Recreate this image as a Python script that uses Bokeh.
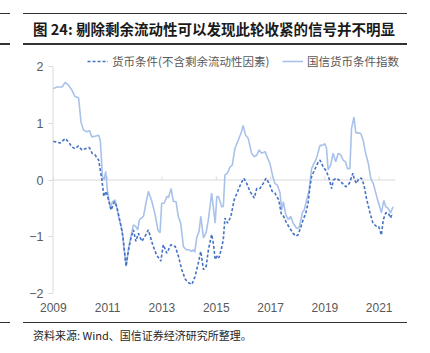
from bokeh.plotting import figure
from bokeh.layouts import column
from bokeh.models import Legend, LegendItem, FixedTicker, ColumnDataSource, Div
from bokeh.embed import file_html
from bokeh.resources import INLINE

# ---------------- data (decimal years) ----------------
gx_years = [2009.00, 2009.14, 2009.32, 2009.44, 2009.56, 2009.69, 2009.80, 2009.93,
            2010.02, 2010.11, 2010.24, 2010.33, 2010.42, 2010.54, 2010.67, 2010.73,
            2010.81, 2010.87, 2010.93, 2010.99, 2011.10, 2011.18, 2011.28, 2011.40,
            2011.53, 2011.61, 2011.68, 2011.77, 2011.86, 2011.95, 2012.04, 2012.11,
            2012.17, 2012.32, 2012.41, 2012.50, 2012.63, 2012.75, 2012.85, 2012.93,
            2012.99, 2013.08, 2013.18, 2013.24, 2013.34, 2013.42, 2013.52, 2013.60,
            2013.69, 2013.79, 2013.89, 2014.01, 2014.10, 2014.16, 2014.21, 2014.28,
            2014.37, 2014.43, 2014.53, 2014.63, 2014.71, 2014.83, 2014.96, 2015.02,
            2015.08, 2015.20, 2015.26, 2015.32, 2015.41, 2015.51, 2015.59, 2015.69,
            2015.81, 2015.93, 2015.99, 2016.08, 2016.18, 2016.30, 2016.40, 2016.49,
            2016.58, 2016.67, 2016.80, 2016.92, 2016.98, 2017.08, 2017.16, 2017.25,
            2017.35, 2017.41, 2017.47, 2017.56, 2017.65, 2017.74, 2017.83, 2017.96,
            2018.04, 2018.12, 2018.18, 2018.24, 2018.33, 2018.42, 2018.51, 2018.60,
            2018.69, 2018.82, 2018.91, 2019.00, 2019.06, 2019.12, 2019.21, 2019.30,
            2019.40, 2019.49, 2019.59, 2019.67, 2019.76, 2019.83, 2019.92, 2019.98,
            2020.07, 2020.14, 2020.23, 2020.32, 2020.41, 2020.50, 2020.60, 2020.69,
            2020.78, 2020.86, 2020.94, 2021.02, 2021.08, 2021.17, 2021.24, 2021.33,
            2021.42, 2021.51]
gx_values = [1.61, 1.64, 1.64, 1.72, 1.67, 1.58, 1.47, 1.45,
             1.02, 0.88, 0.85, 0.87, 0.76, 0.77, 0.79, 0.70,
             0.06, 0.00, 0.15, -0.18, -0.50, -0.38, -0.35, -0.64,
             -0.88, -1.23, -1.52, -1.20, -0.99, -0.79, -0.82, -0.88,
             -0.70, -0.64, -0.41, -0.20, -0.38, -0.61, -0.88, -0.93,
             -0.41, -0.41, -0.29, -0.31, -0.15, -0.38, -0.38, -0.64,
             -0.76, -1.17, -1.23, -1.23, -1.26, -1.23, -1.27, -1.02,
             -0.90, -0.64, -1.02, -0.92, -0.70, -0.23, -0.76, -0.29,
             -0.29, -0.47, -0.47, 0.09, 0.12, 0.23, 0.26, 0.56,
             0.70, 0.85, 0.96, 0.79, 0.73, 0.47, 0.41, 0.44,
             0.53, 0.47, 0.50, 0.35, 0.29, 0.06, -0.06, -0.09,
             -0.23, -0.53, -0.38, -0.61, -0.70, -0.64, -0.76, -0.85,
             -0.85, -0.70, -0.56, -0.53, -0.35, -0.18, 0.20, 0.29,
             0.38, 0.61, 0.61, 0.64, 0.56, 0.18, 0.26, 0.47,
             0.32, 0.47, 0.44, 0.35, 0.32, 0.20, 0.20, 0.90,
             1.11, 0.83, 0.83, 0.82, 0.70, 0.47, 0.29, 0.03,
             -0.06, -0.20, -0.35, -0.47, -0.58, -0.36, -0.47, -0.50,
             -0.58, -0.47]

ex_years = [2009.00, 2009.12, 2009.25, 2009.44, 2009.56, 2009.69, 2009.80, 2009.93,
            2010.05, 2010.17, 2010.27, 2010.33, 2010.43, 2010.54, 2010.67, 2010.79,
            2010.86, 2010.95, 2011.00, 2011.13, 2011.25, 2011.34, 2011.47, 2011.56,
            2011.68, 2011.77, 2011.86, 2011.95, 2012.04, 2012.13, 2012.26, 2012.38,
            2012.50, 2012.66, 2012.80, 2012.96, 2013.05, 2013.18, 2013.33, 2013.49,
            2013.61, 2013.73, 2013.86, 2013.98, 2014.10, 2014.22, 2014.34, 2014.43,
            2014.53, 2014.63, 2014.71, 2014.83, 2014.90, 2014.96, 2015.05, 2015.10,
            2015.18, 2015.26, 2015.32, 2015.42, 2015.54, 2015.66, 2015.79, 2015.91,
            2016.02, 2016.12, 2016.24, 2016.40, 2016.49, 2016.61, 2016.73, 2016.83,
            2016.95, 2017.06, 2017.16, 2017.30, 2017.40, 2017.48, 2017.59, 2017.71,
            2017.83, 2017.93, 2018.01, 2018.10, 2018.20, 2018.30, 2018.38, 2018.45,
            2018.51, 2018.64, 2018.76, 2018.82, 2018.94, 2019.06, 2019.15, 2019.25,
            2019.31, 2019.43, 2019.52, 2019.65, 2019.77, 2019.90, 2020.03, 2020.09,
            2020.17, 2020.25, 2020.35, 2020.44, 2020.53, 2020.65, 2020.77, 2020.90,
            2020.98, 2021.08, 2021.15, 2021.24, 2021.33, 2021.42, 2021.49]
ex_values = [0.68, 0.67, 0.65, 0.73, 0.67, 0.58, 0.55, 0.60,
             0.53, 0.55, 0.57, 0.57, 0.47, 0.44, 0.35, 0.00,
             -0.29, -0.20, -0.29, -0.53, -0.38, -0.47, -0.76, -0.99,
             -1.52, -1.23, -1.02, -0.88, -1.08, -0.94, -1.08, -0.99,
             -0.88, -1.14, -1.32, -1.43, -1.14, -1.29, -1.14, -1.17,
             -1.35, -1.58, -1.75, -1.81, -1.84, -1.70, -1.46, -1.26,
             -1.58, -1.52, -1.23, -0.96, -1.14, -1.40, -1.33, -1.37,
             -1.23, -1.05, -0.67, -0.76, -0.64, -0.35, -0.20, -0.06,
             0.03, -0.06, -0.20, -0.32, -0.15, -0.15, -0.06, 0.03,
             -0.06, -0.20, -0.23, -0.35, -0.61, -0.64, -0.76, -0.85,
             -0.94, -0.99, -0.97, -0.85, -0.70, -0.58, -0.41, -0.12,
             0.06, 0.20, 0.32, 0.35, 0.23, 0.15, 0.03, -0.15,
             0.00, 0.03, 0.00, -0.06, -0.12, -0.06, 0.12, 0.00,
             -0.06, 0.03, 0.03, -0.09, -0.32, -0.56, -0.76, -0.82,
             -0.82, -0.97, -0.70, -0.58, -0.58, -0.67, -0.58]

x_ticks = [2009, 2011, 2013, 2015, 2017, 2019, 2021]
y_ticks = [-2, -1, 0, 1, 2]

title_text = "图 24: 剔除剩余流动性可以发现此轮收紧的信号并不明显"
source_text = "资料来源: Wind、国信证券经济研究所整理。"
label_ex = "货币条件(不含剩余流动性因素)"
label_gx = "国信货币条件指数"

W = 430
axis_gray = "#d9d9d9"
text_gray = "#595959"
rule_color = "#333333"


def hrule(left, top, width, thick):
    return (f'<div style="position:absolute;left:{left}px;top:{top}px;width:{width}px;'
            f'height:{thick}px;background:{rule_color};"></div>')


def text_block(left, top, txt, size, weight, color):
    return (f'<div style="position:absolute;left:{left}px;top:{top}px;white-space:nowrap;'
            f'font-family:\'Noto Sans CJK SC\';font-size:{size}px;font-weight:{weight};'
            f'line-height:{size + 4}px;color:{color};">{txt}</div>')


# ---------------- header ----------------
HH = 50
head_html = ('<div style="position:relative;width:430px;height:50px;">'
             + hrule(23, 12.5, 384, 1) + hrule(0, 12.5, 10, 1)
             + hrule(23, 43, 384, 1.5) + hrule(0, 43, 10, 1.5)
             + text_block(33, 29 - 9.25, title_text, 14.5, 700, "#1a1a1a")
             + '</div>')
head = Div(text=head_html, width=W, height=HH, margin=0)

# ---------------- main chart ----------------
MH = 266                     # canvas rows 50..316
FTc = 53                     # frame top on canvas
FT, FB = FTc - HH, 293 - HH  # frame top/bottom inside main figure
FL, FR = 52, 404             # frame left/right on canvas
px_per_year = (395 - 53) / 12.6
x0, x_axis_end = 2008.97, 2021.6
x1 = x_axis_end + (FR - 395) / px_per_year
y_top = 2 + (66 - FTc) / ((293 - 66) / 4.0)

p = figure(width=W, height=MH, output_backend="svg", toolbar_location=None,
           x_range=(x0, x1), y_range=(-2, y_top),
           min_border_left=FL, min_border_right=W - FR,
           min_border_top=FT, min_border_bottom=MH - FB)
p.outline_line_color = None
p.xgrid.visible = False
p.ygrid.visible = False

p.yaxis.ticker = FixedTicker(ticks=y_ticks)
p.yaxis.major_label_overrides = {t: (str(t) if t >= 0 else "\u2212" + str(-t)) for t in y_ticks}
p.yaxis.axis_line_color = None
p.yaxis.major_tick_line_color = axis_gray
p.yaxis.major_tick_out = 4
p.yaxis.major_tick_in = 0
p.yaxis.minor_tick_line_color = None
p.yaxis.major_label_standoff = 5
p.yaxis.major_label_text_color = text_gray
p.yaxis.major_label_text_font = "Liberation Sans"
p.yaxis.major_label_text_font_size = "12.5px"

p.xaxis.ticker = FixedTicker(ticks=x_ticks)
p.xaxis.axis_line_color = None
p.xaxis.major_tick_line_color = None
p.xaxis.minor_tick_line_color = None
p.xaxis.major_tick_out = 0
p.xaxis.major_tick_in = 0
p.xaxis.major_label_standoff = 9
p.xaxis.major_label_text_color = text_gray
p.xaxis.major_label_text_font = "Liberation Sans"
p.xaxis.major_label_text_font_size = "12px"

# y axis line from -2 to 2 only
p.segment(x0=[x0], y0=[y_ticks[0]], x1=[x0], y1=[y_ticks[-1]],
          line_color=axis_gray, line_width=2)
# zero line (category axis position) with small ticks
p.segment(x0=[x0], y0=[0], x1=[x_axis_end], y1=[0], line_color=axis_gray, line_width=1)
p.segment(x0=x_ticks, y0=[0] * len(x_ticks), x1=x_ticks, y1=[0.06] * len(x_ticks),
          line_color=axis_gray, line_width=1)

src_gx = ColumnDataSource(dict(x=gx_years, y=gx_values))
src_ex = ColumnDataSource(dict(x=ex_years, y=ex_values))
r_gx = p.line("x", "y", source=src_gx, line_color="#a9c2ea", line_width=1.6)
r_ex = p.line("x", "y", source=src_ex, line_color="#4472c4", line_width=1.6,
              line_dash="3 2")

for r, lab, lx in [(r_ex, label_ex, 87 - FL), (r_gx, label_gx, 282 - FL)]:
    lg = Legend(items=[LegendItem(label=lab, renderers=[r])],
                location=(lx, (293 - 69)), orientation="horizontal",
                padding=0, margin=0, border_line_color=None,
                background_fill_alpha=0, glyph_width=21, glyph_height=12,
                label_standoff=4, label_height=12,
                label_text_font="Noto Sans CJK SC", label_text_font_size="11.5px",
                label_text_color=text_gray)
    p.add_layout(lg)

# ---------------- footer ----------------
FH = 353 - HH - MH
foot_html = ('<div style="position:relative;width:430px;height:%dpx;">' % FH
             + hrule(23, 5.5, 384, 1.5) + hrule(0, 5.5, 10, 1.5)
             + text_block(33, 19 - 7.5, source_text, 11, 400, "#262626")
             + '</div>')
foot = Div(text=foot_html, width=W, height=FH, margin=0)

layout = column(head, p, foot, spacing=0)
open("out.html", "w").write(file_html(layout, INLINE))
